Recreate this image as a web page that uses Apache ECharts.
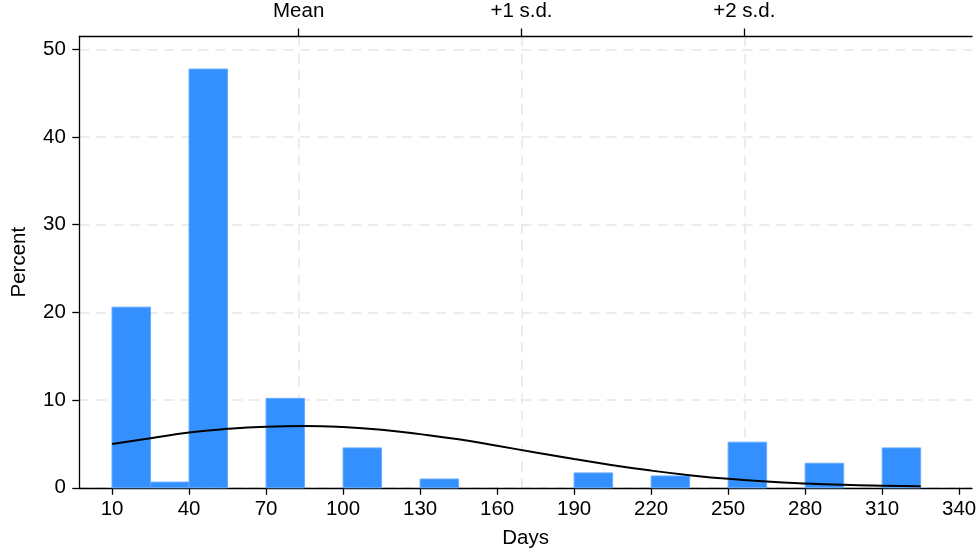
<!DOCTYPE html>
<html>
<head>
<meta charset="utf-8">
<script src="https://cdn.jsdelivr.net/npm/echarts@6/dist/echarts.min.js"></script>
<style>
  html, body { margin: 0; padding: 0; background: #fff; }
  #chart { width: 976px; height: 550px; }
</style>
</head>
<body>
<div id="chart"></div>
<script>
// Histogram of durations (days), 15-day bins, shown as percent of cases
const binStarts = [10, 25, 40, 70, 100, 130, 190, 220, 250, 280, 310];
const binWidth = 15;
const binPercent = [20.6, 0.65, 47.75, 10.2, 4.55, 1.0, 1.7, 1.35, 5.2, 2.8, 4.55];

// Fitted normal density (scaled to percent per bin), sampled along the range
const curveDays = [10, 25, 40, 55, 70, 85, 100, 115, 130, 145, 160, 175, 190, 205, 220, 235, 250, 265, 280, 295, 310, 325];
const curvePercent = [4.99, 5.64, 6.30, 6.72, 6.97, 7.05, 6.93, 6.62, 6.12, 5.53, 4.80, 4.02, 3.28, 2.58, 1.96, 1.44, 1.02, 0.72, 0.50, 0.34, 0.24, 0.17];

// Bottom axis ticks
const dayTicks = [10, 40, 70, 100, 130, 160, 190, 220, 250, 280, 310, 340];
const percentTicks = [0, 10, 20, 30, 40, 50];

// Mean and standard-deviation markers on the top axis
const meanDays = 82.7;
const sdDays = 86.8;
const sdLabels = ['Mean', '+1 s.d.', '+2 s.d.'];
const sdPositions = sdLabels.map((_, k) => meanDays + k * sdDays);

const FONT = '"Liberation Sans", Arial, Helvetica, sans-serif';
const FS = 20.5;
const X_MIN = -2.75, X_MAX = 345;

const barData = binStarts.map((s, i) => [s, s + binWidth, binPercent[i]]);
const curveData = curveDays.map((d, i) => [d, curvePercent[i]]);

const chart = echarts.init(document.getElementById('chart'), null, { renderer: 'canvas' });

chart.setOption({
  animation: false,
  backgroundColor: '#ffffff',
  textStyle: { fontFamily: FONT },
  grid: { left: 79.3, right: 4, top: 36.5, bottom: 62.2, containLabel: false, outerBoundsMode: 'none' },
  xAxis: [
    {
      type: 'value',
      position: 'bottom',
      min: X_MIN,
      max: X_MAX,
      name: 'Days',
      nameLocation: 'middle',
      nameGap: 40,
      nameTextStyle: { fontSize: FS, color: '#000', fontFamily: FONT },
      axisLine: { show: true, onZero: false, lineStyle: { color: '#000', width: 1.3 } },
      axisTick: { show: true, length: 7, customValues: dayTicks, lineStyle: { color: '#000', width: 1.3 } },
      axisLabel: { customValues: dayTicks, fontSize: FS, color: '#000', margin: 11, fontFamily: FONT },
      splitLine: { show: false }
    },
    {
      type: 'value',
      position: 'top',
      min: X_MIN,
      max: X_MAX,
      axisLine: { show: true, onZero: false, lineStyle: { color: '#000', width: 1.3 } },
      axisTick: { show: true, length: 8, customValues: sdPositions, lineStyle: { color: '#000', width: 1.3 } },
      axisLabel: {
        customValues: sdPositions,
        fontSize: FS,
        color: '#000',
        margin: 15,
        fontFamily: FONT,
        formatter: function (v) {
          let best = 0;
          sdPositions.forEach((p, i) => { if (Math.abs(p - v) < Math.abs(sdPositions[best] - v)) best = i; });
          return sdLabels[best];
        }
      },
      splitLine: { show: true, lineStyle: { color: '#e6e6e6', width: 1.5, type: [10, 7] } }
    }
  ],
  yAxis: {
    type: 'value',
    min: 0,
    max: 51.46,
    name: 'Percent',
    nameLocation: 'middle',
    nameGap: 49,
    nameRotate: 90,
    nameTextStyle: { fontSize: FS, color: '#000', fontFamily: FONT },
    axisLine: { show: true, onZero: false, lineStyle: { color: '#000', width: 1.3 } },
    axisTick: { show: true, length: 7, customValues: percentTicks, lineStyle: { color: '#000', width: 1.3 } },
    axisLabel: { customValues: percentTicks, fontSize: FS, color: '#000', margin: 13.5, fontFamily: FONT },
    splitLine: { show: true, lineStyle: { color: '#e6e6e6', width: 1.5, type: [10, 7] } }
  },
  series: [
    {
      type: 'custom',
      xAxisIndex: 0,
      yAxisIndex: 0,
      data: barData,
      encode: { x: [0, 1], y: 2 },
      renderItem: function (params, api) {
        const p0 = api.coord([api.value(0), api.value(2)]);
        const p1 = api.coord([api.value(1), 0]);
        return {
          type: 'rect',
          shape: { x: p0[0], y: p0[1], width: p1[0] - p0[0], height: p1[1] - p0[1] },
          style: { fill: '#3590ff', stroke: '#66aaff', lineWidth: 1 }
        };
      },
      z: 2
    },
    {
      type: 'line',
      xAxisIndex: 0,
      yAxisIndex: 0,
      data: curveData,
      smooth: true,
      symbol: 'none',
      lineStyle: { color: '#000', width: 2 },
      z: 3
    }
  ]
});
</script>
</body>
</html>
